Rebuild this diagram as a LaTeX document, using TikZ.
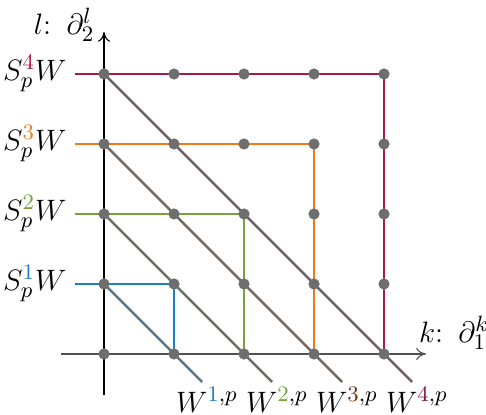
\documentclass[tikz,border=0pt]{standalone}
\usetikzlibrary{arrows.meta}
\definecolor{c1}{HTML}{1B7FC4}
\definecolor{c2}{HTML}{77A33A}
\definecolor{c3}{HTML}{F07A1A}
\definecolor{c4}{HTML}{A8174F}
\definecolor{d1}{HTML}{5E7585}
\definecolor{d2}{HTML}{6B7262}
\definecolor{d3}{HTML}{736860}
\definecolor{d4}{HTML}{705F68}
\definecolor{w3}{HTML}{6B3410}
\definecolor{w4}{HTML}{7A1840}
\definecolor{dotc}{HTML}{6E6E6E}
\definecolor{haxis}{HTML}{505050}
\begin{document}
\begin{tikzpicture}[x=1cm,y=1cm,font=\fontsize{13}{15}\selectfont,
  axisline/.style={line width=0.45pt,-{To[length=4pt,width=5pt]}},
  pathline/.style={line width=1.05pt},
  diagline/.style={line width=1pt},
  griddot/.style={circle,fill=dotc,inner sep=0pt,minimum size=0.16cm},
  lab/.style={inner sep=1pt}]
\useasboundingbox (-1.486,-0.871) rectangle (5.457,5.057);
% coordinates
\foreach \i in {0,...,4}{
  \foreach \j in {0,...,4}{
    \coordinate (g-\i-\j) at (\i,\j);
  }
}
\foreach \n in {1,...,4}{
  \coordinate (h-\n) at (-0.41,\n);
  \coordinate (d-\n) at (\n+0.4,-0.4);
}
\coordinate (xs) at (-0.61,0);
\coordinate (xe) at (4.6,0);
\coordinate (ys) at (0,-0.59);
\coordinate (ye) at (0,4.6);
% axes
\draw[axisline,haxis] (xs) -- (xe);
\draw[axisline,black] (ys) -- (ye);
% colored paths
\draw[pathline,c1] (h-1) -- (g-1-1) -- (g-1-0);
\draw[pathline,c2] (h-2) -- (g-2-2) -- (g-2-0);
\draw[pathline,c3] (h-3) -- (g-3-3) -- (g-3-0);
\draw[pathline,c4] (h-4) -- (g-4-4) -- (g-4-0);
% diagonals
\draw[diagline,d1] (g-0-1) -- (d-1);
\draw[diagline,d2] (g-0-2) -- (d-2);
\draw[diagline,d3] (g-0-3) -- (d-3);
\draw[diagline,d4] (g-0-4) -- (d-4);
% dots
\foreach \i in {0,...,4}{
  \foreach \j in {0,...,4}{
    \node[griddot] (p-\i-\j) at (g-\i-\j) {};
  }
}
% labels
\node[lab] (s1) at (-0.99,1) {$S_p^{\textcolor{c1}{1}}W$};
\node[lab] (s2) at (-0.99,2) {$S_p^{\textcolor{c2}{2}}W$};
\node[lab] (s3) at (-0.99,3) {$S_p^{\textcolor{c3}{3}}W$};
\node[lab] (s4) at (-0.99,4) {$S_p^{\textcolor{c4}{4}}W$};
\node[lab] (w1) at (1.47,-0.66) {$W^{\textcolor{c1}{1},p}$};
\node[lab] (w2) at (2.47,-0.66) {$W^{\textcolor{c2}{2},p}$};
\node[lab] (w3) at (3.47,-0.66) {$W^{\textcolor{w3}{3},p}$};
\node[lab] (w4) at (4.47,-0.66) {$W^{\textcolor{w4}{4},p}$};
\node[lab] (kl) at (5.0,0.3) {$k\colon\ \partial_1^k$};
\node[lab] (ll) at (-0.57,4.7) {$l\colon\ \partial_2^l$};
\end{tikzpicture}
\end{document}
